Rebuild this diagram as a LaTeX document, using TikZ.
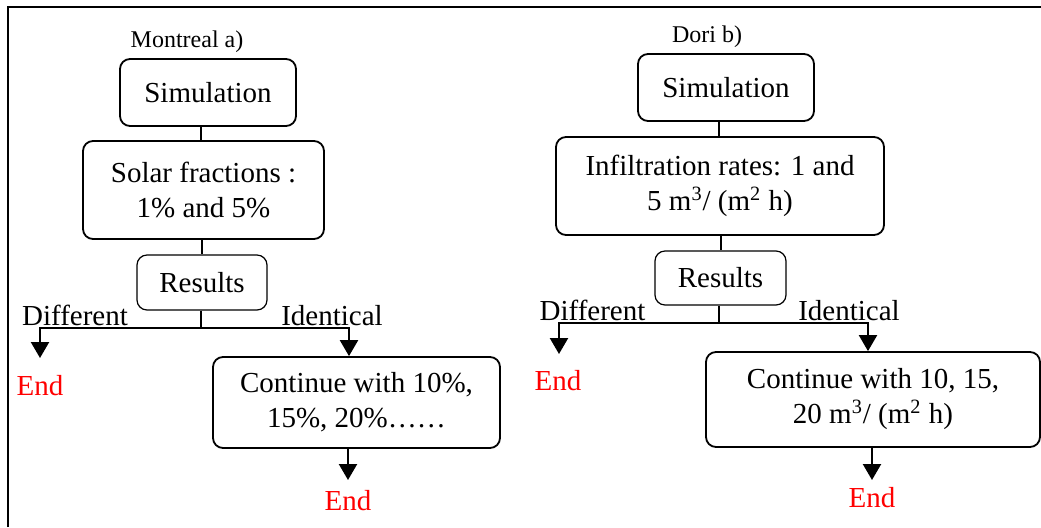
\documentclass[tikz,border=0pt]{standalone}
\usepackage{fontspec}
\setmainfont{Liberation Serif}
\usetikzlibrary{arrows.meta}

\begin{document}
\begin{tikzpicture}[x=0.5pt, y=-0.5pt,
                box/.style={draw, rounded corners=5pt, line width=0.9pt, align=center, inner sep=0pt,
                    font=\fontsize{14.5}{17.5}\selectfont},
                resbox/.style={box, line width=0.6pt},
                lbl/.style={inner sep=0pt, anchor=base, font=\fontsize{14.5}{17.5}\selectfont},
                endlbl/.style={lbl, text=red},
                ttl/.style={inner sep=0pt, font=\fontsize{12}{14}\selectfont},
                link/.style={line width=0.75pt},
                flow/.style={line width=1.1pt, -{Triangle[width=9pt, length=8pt]}}]
                \useasboundingbox (0,0) rectangle (1041,527);
                \draw[line width=1pt] (8,527) -- (8,7) -- (1041,7);
                % Montreal a)
                \node[ttl] (tla) at (187,42) {Montreal a)};
                \node[box, minimum width=88pt, minimum height=33.5pt] (sima) at (208,92.5) {Simulation};
                \node[box, minimum width=120.5pt, minimum height=49pt] (sola) at (203.5,190) {Solar fractions :\\1\% and 5\%};
                \node[resbox, minimum width=65pt, minimum height=27.5pt] (resa) at (202,282.5) {Results};
                \node[box, minimum width=143.5pt, minimum height=45.5pt] (conta) at (356.5,402.5) {Continue with 10\%,\\15\%, 20\%\ldots\ldots};
                \node[lbl] (difa) at (75,325) {Different};
                \node[lbl] (ida) at (332,325) {Identical};
                \node[endlbl] (enda) at (40,395) {End};
                \node[endlbl] (endc) at (348,510) {End};
                \coordinate (ja) at (201,328);
                \coordinate (ea) at (40,358);
                \coordinate (ia) at (349,328);
                \coordinate (ba) at (348,480);
                \draw[link] (sola.north -| 201,0) -- (sima.south -| 201,0);
                \draw[link] (sola.south -| 202,0) -- (resa.north -| 202,0);
                \draw[link] (resa.south -| ja) -- (ja);
                \draw[flow] (ja) -| (ea);
                \draw[flow] (ja) -| (conta.north -| ia);
                \draw[flow] (conta.south -| ba) -- (ba);
                % Dori b)
                \node[ttl] (tlb) at (707,37) {Dori b)};
                \node[box, minimum width=88pt, minimum height=33.5pt] (simb) at (726,87.5) {Simulation};
                \node[box, minimum width=164pt, minimum height=49pt] (infb) at (720,186) {Infiltration rates: 1 and\\5 m\textsuperscript{3}/ (m\textsuperscript{2} h)};
                \node[resbox, minimum width=65.5pt, minimum height=27pt] (resb) at (720.5,278) {Results};
                \node[box, minimum width=167pt, minimum height=47.5pt] (contb) at (873,399.5) {Continue with 10, 15,\\20 m\textsuperscript{3}/ (m\textsuperscript{2} h)};
                \node[lbl] (difb) at (592.5,320) {Different};
                \node[lbl] (idb) at (849,320) {Identical};
                \node[endlbl] (endb) at (558,390) {End};
                \node[endlbl] (endd) at (872,507) {End};
                \coordinate (jb) at (719,323);
                \coordinate (eb) at (559,354);
                \coordinate (ib) at (868,323);
                \coordinate (bb) at (872,480);
                \draw[link] (infb.north -| 719,0) -- (simb.south -| 719,0);
                \draw[link] (infb.south -| 721,0) -- (resb.north -| 721,0);
                \draw[link] (resb.south -| jb) -- (jb);
                \draw[flow] (jb) -| (eb);
                \draw[flow] (jb) -| (contb.north -| ib);
                \draw[flow] (contb.south -| bb) -- (bb);
\end{tikzpicture}
\end{document}
